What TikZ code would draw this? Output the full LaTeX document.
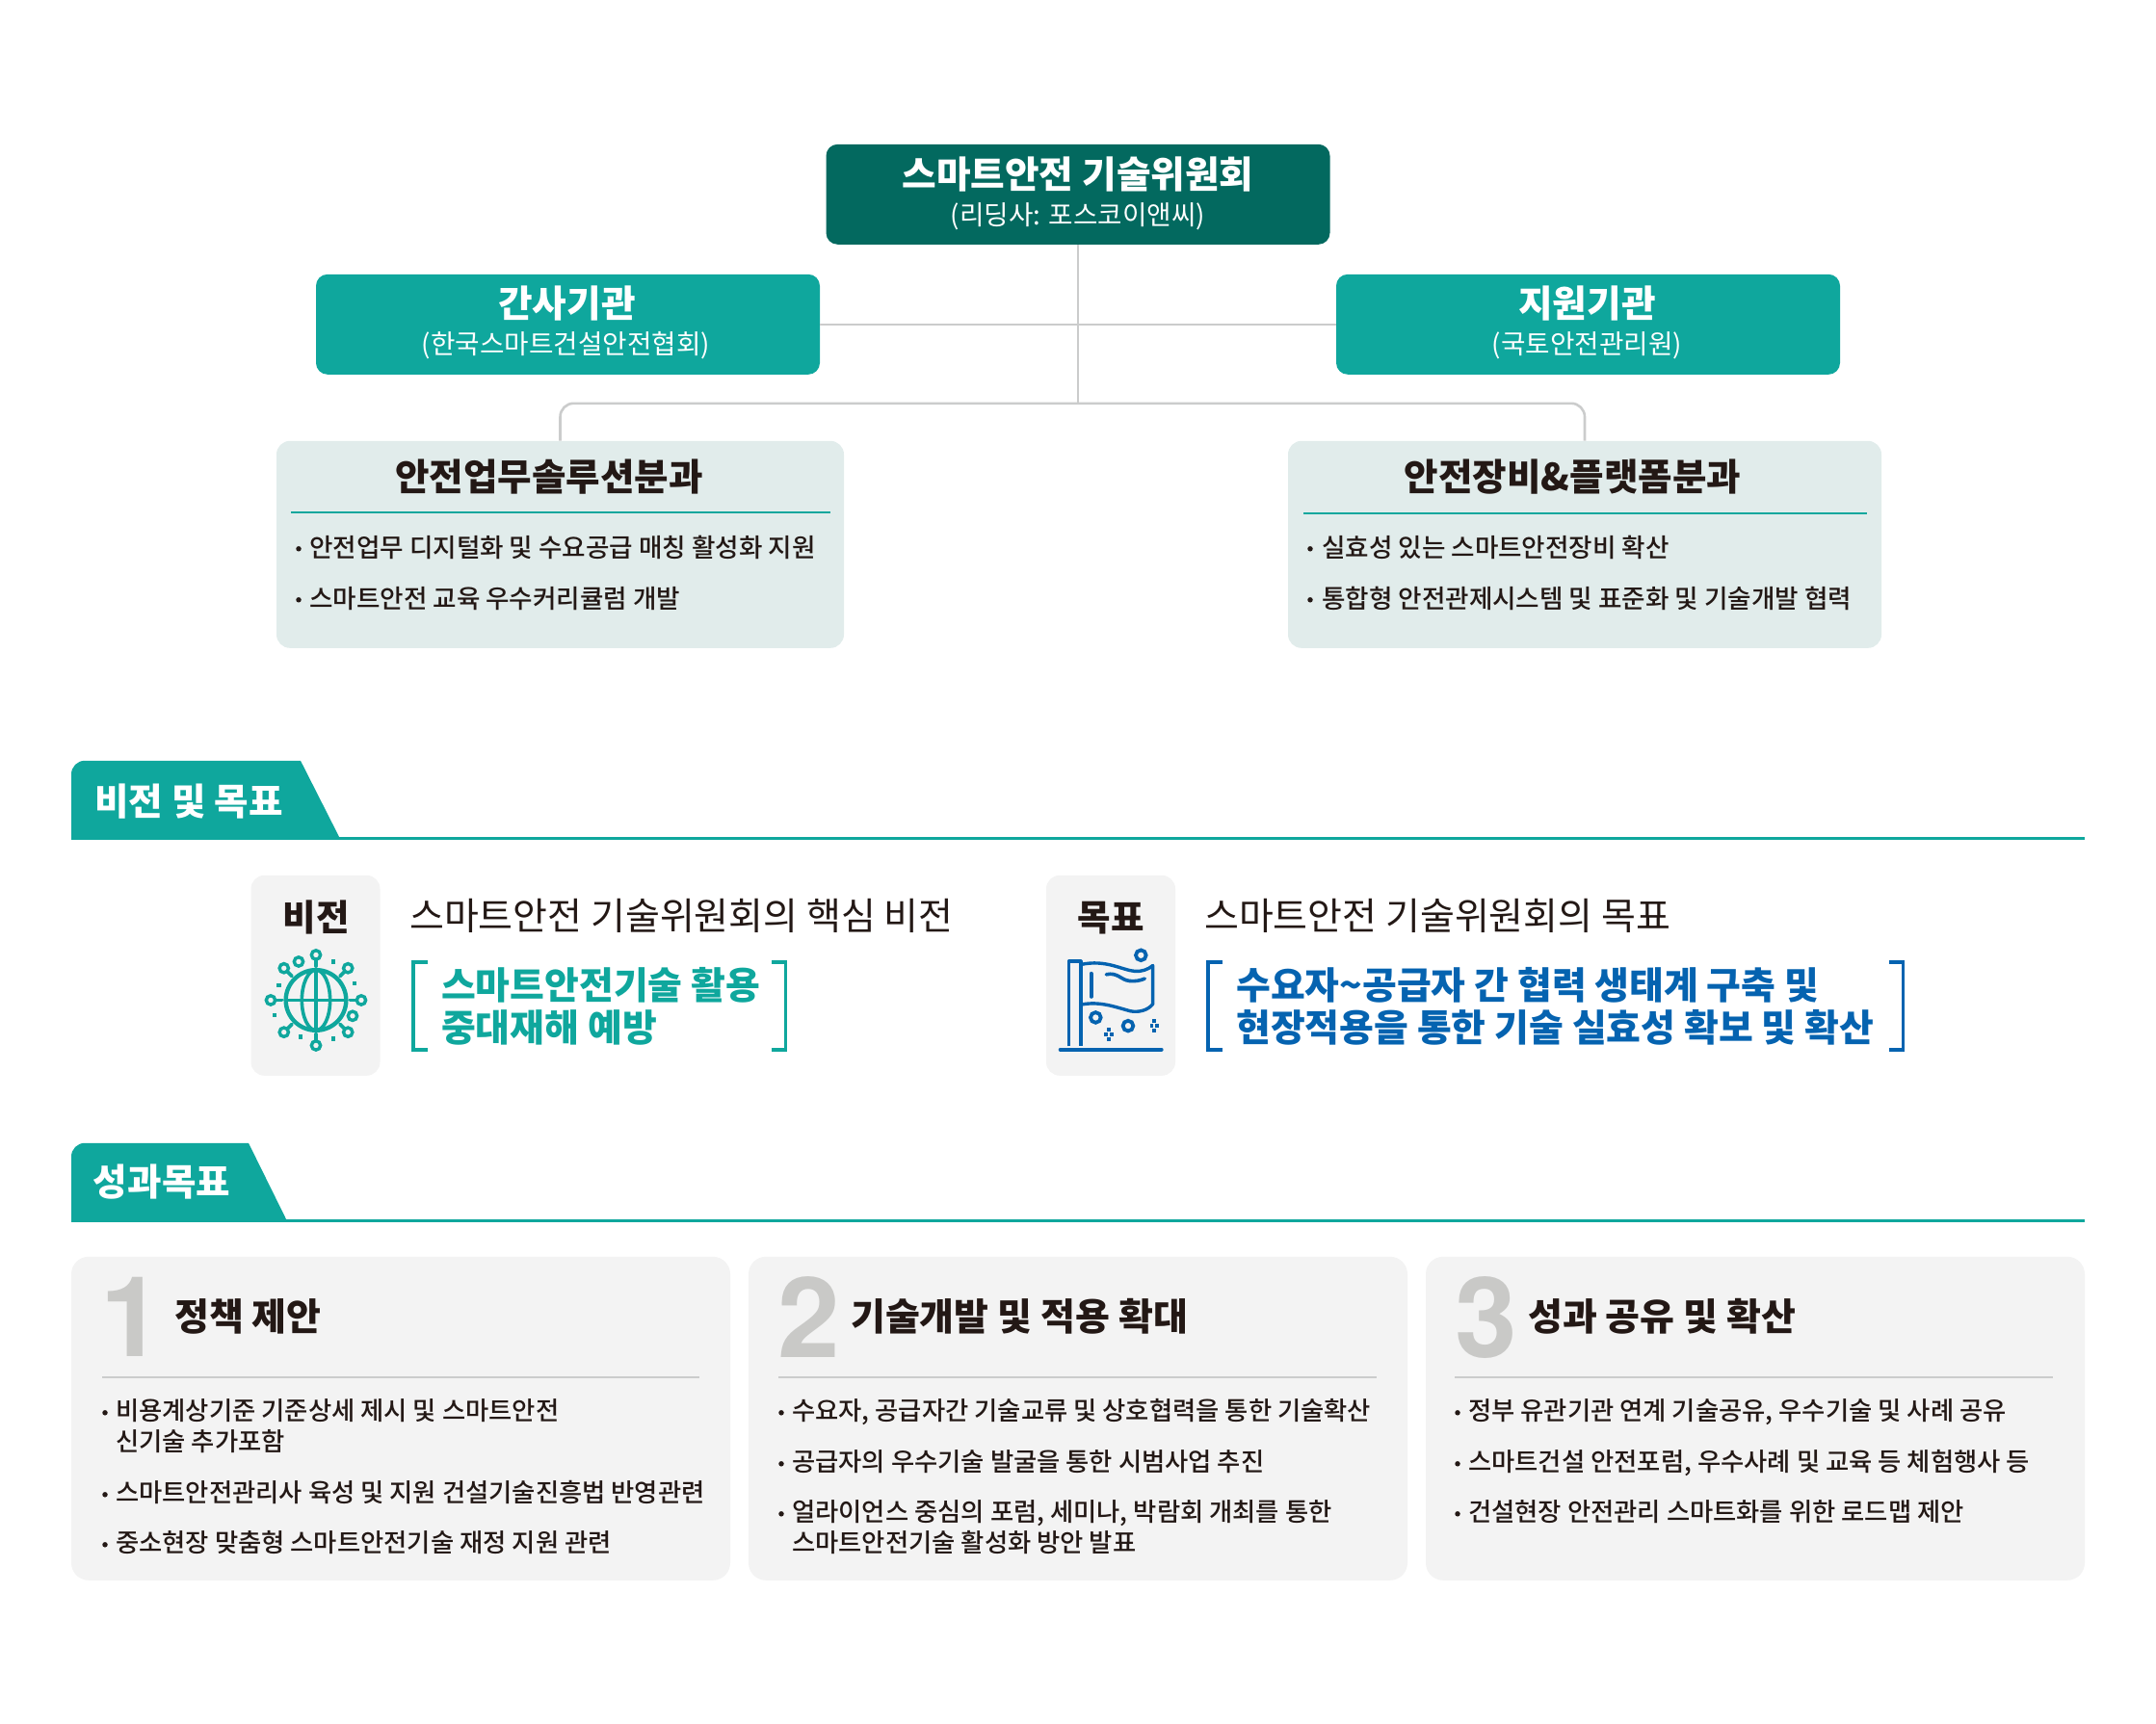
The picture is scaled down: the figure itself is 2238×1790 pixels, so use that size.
\documentclass[tikz,border=0pt]{standalone}
\usepackage{fontspec}
\usepackage{tikz}
\usetikzlibrary{calc}
\setmainfont{Noto Sans CJK KR}
\newfontfamily\krheavy{Noto Sans CJK KR Black}
\newfontfamily\krmedium{Noto Sans CJK KR Medium}
\newfontfamily\numfont{TeX Gyre Heros}
\definecolor{deepteal}{HTML}{03695F}
\definecolor{mainteal}{HTML}{0FA79D}
\definecolor{paleteal}{HTML}{E1ECEB}
\definecolor{palegray}{HTML}{F3F3F3}
\definecolor{linkgray}{HTML}{CBCCCC}
\definecolor{numgray}{HTML}{C9C9C7}
\definecolor{inkdark}{HTML}{231815}
\definecolor{goalblue}{HTML}{0563B0}
\tikzset{
  orgbox/.style={fill=#1, rounded corners=12pt, inner sep=0pt, minimum width=523pt, minimum height=104pt},
  workbox/.style={fill=paleteal, rounded corners=14pt, inner sep=0pt, minimum height=215pt},
  cellbox/.style={fill=palegray, rounded corners=14pt, inner sep=0pt, minimum width=134pt, minimum height=208pt},
  cardbox/.style={fill=palegray, rounded corners=18pt, inner sep=0pt, minimum width=684pt, minimum height=336pt},
  link/.style={draw=linkgray, line width=2.6pt},
  orgtitle/.style={inner sep=0pt, white, font=\krheavy\fontsize{38.7}{42}\selectfont},
  orgsub/.style={inner sep=0pt, white, font=\fontsize{27.7}{32}\selectfont},
  tabtext/.style={inner sep=0pt, white, font=\krheavy\fontsize{38.6}{42}\selectfont},
  worktitle/.style={inner sep=0pt, inkdark, font=\krheavy\fontsize{38.6}{42}\selectfont},
  celltitle/.style={inner sep=0pt, inkdark, font=\krheavy\fontsize{37.5}{42}\selectfont},
  itemtext/.style={inner sep=0pt, anchor=west, yshift=-1pt, inkdark, font=\krmedium\fontsize{26.35}{30}\selectfont, text height=22pt, text depth=4pt},
  boxitem/.style={itemtext, font=\krmedium\fontsize{26.6}{30}\selectfont},
  dotmark/.style={fill=inkdark, circle, inner sep=0pt, minimum size=5.5pt},
  leadtext/.style={inner sep=0pt, anchor=west, inkdark, font=\fontsize{39}{44}\selectfont, text height=33pt, text depth=5pt},
  goaltext/.style={inner sep=0pt, anchor=west, yshift=-1pt, #1, font=\krheavy\fontsize{38.9}{44}\selectfont, text height=33pt, text depth=5pt},
  numtext/.style={inner sep=0pt, numgray, font=\numfont\bfseries\fontsize{116}{116}\selectfont},
  cardtitle/.style={inner sep=0pt, anchor=west, yshift=-1pt, inkdark, font=\krheavy\fontsize{39}{44}\selectfont, text height=33pt, text depth=5pt},
}
\begin{document}
\begin{tikzpicture}[x=1pt, y=-1pt]
  \useasboundingbox (0,-0.8) rectangle (2238,1789.2);

  \node [orgbox=deepteal] (lead) at (1119,201) {};
  \node [orgbox=mainteal] (admin) at (589.5,336) {};
  \node [orgbox=mainteal] (support) at (1648.5,336) {};
  \node [workbox, minimum width=589pt] (solution) at (581.5,564.5) {};
  \node [workbox, minimum width=616pt] (platform) at (1645,564.5) {};
  \coordinate (joint) at (1119,418);

  \draw[link] (lead.south) -- (joint);
  \draw[link] (admin.east) -- (support.west);
  \draw[link, rounded corners=14pt] (solution.north) |- (joint) -| (platform.north);

  \node [orgtitle] (leadname) at (1119,180) {스마트안전 기술위원회};
  \node [orgsub] (leadsub) at (1119,224) {(리딩사: 포스코이앤씨)};
  \node [orgtitle] (adminname) at (588.5,314) {간사기관};
  \node [orgsub] (adminsub) at (587.5,358) {(한국스마트건설안전협회)};
  \node [orgtitle] (supportname) at (1647.5,314) {지원기관};
  \node [orgsub] (supportsub) at (1647.5,358) {(국토안전관리원)};

  \node [worktitle] (solutionname) at (570,494) {안전업무솔루션분과};
  \draw[mainteal, line width=2pt] (302,531) -- (862,531);
  \node [dotmark] (s1dot) at (310,569) {};
  \node [boxitem] (s1) at (321,568) {안전업무 디지털화 및 수요공급 매칭 활성화 지원};
  \node [dotmark] (s2dot) at (310,622) {};
  \node [boxitem] (s2) at (321,621) {스마트안전 교육 우수커리큘럼 개발};

  \node [worktitle] (platformname) at (1632.5,494) {안전장비\&플랫폼분과};
  \draw[mainteal, line width=2pt] (1353,532) -- (1938,532);
  \node [dotmark] (p1dot) at (1360,569) {};
  \node [boxitem] (p1) at (1372,568) {실효성 있는 스마트안전장비 확산};
  \node [dotmark] (p2dot) at (1360,622) {};
  \node [boxitem] (p2) at (1372,621) {통합형 안전관제시스템 및 표준화 및 기술개발 협력};

  \fill[mainteal] (74,870) [rounded corners=14pt] -- (74,789) [sharp corners] -- (312,789) -- (353,870) -- cycle;
  \draw[mainteal, line width=3pt] (74,869.5) -- (2164,869.5);
  \node [tabtext] (visiontab) at (196,831) {비전 및 목표};

  \node [cellbox] (visioncell) at (327.5,1012) {};
  \node [celltitle] (visionname) at (328,952) {비전};
  \begin{scope}[shift={(260,910)}, x=.3333pt, y=-.3333pt, mainteal]
    \draw[line width=4.4pt] (204,383) circle [radius=94];
    \draw[line width=3.6pt] (204,383) ellipse [x radius=44, y radius=94];
    \draw[line width=3.6pt] (204,289) -- (204,477) (110,383) -- (298,383);
    \foreach \ang in {0,45,...,315} {
      \draw[line width=3.8pt, line cap=round] ($(204,383)+(\ang:106)$) -- ($(204,383)+(\ang:126)$);
      \draw[line width=3.4pt] ($(204,383)+(\ang:141)$) circle [radius=14];
    }
    \draw[line width=3.4pt] (150,263) circle [radius=14] (318,432) circle [radius=14];
    \foreach \sqx/\sqy in {258/263,325/330,88/337,75/430,156/497,258/503}
      \fill (\sqx-6.5,\sqy-6.5) rectangle (\sqx+6.5,\sqy+6.5);
  \end{scope}

  \node [leadtext] (visionlead) at (425,951) {스마트안전 기술위원회의 핵심 비전};
  \draw[mainteal, line width=3.6pt] (444,998) -- (429,998) -- (429,1089) -- (444,1089);
  \draw[mainteal, line width=3.6pt] (801,998) -- (815.5,998) -- (815.5,1089) -- (801,1089);
  \node [goaltext=mainteal] (vision1) at (458,1022) {스마트안전기술 활용};
  \node [goaltext=mainteal] (vision2) at (458,1066) {중대재해 예방};

  \node [cellbox] (goalcell) at (1153,1012) {};
  \node [celltitle] (goalname) at (1153,952) {목표};
  \begin{scope}[shift={(1085,910)}, x=.3333pt, y=-.3333pt, goalblue, line width=3.4pt]
    \draw[line join=round] (73,527) -- (73,262) -- (111,262) -- (111,527);
    \draw[line join=round] (111,272) .. controls (190,255) and (240,290) .. (280,293) .. controls (300,294) and (320,288) .. (335,275) -- (335,395) .. controls (320,415) and (290,422) .. (265,417) .. controls (220,405) and (170,385) .. (111,397);
    \draw[line width=4pt, line cap=round] (47,537) -- (362,537);
    \draw[line width=4pt, line cap=round] (143,300) -- (143,372);
    \draw[line width=3.6pt, line cap=round] (190,303) .. controls (225,295) and (235,320) .. (262,323) .. controls (280,325) and (295,322) .. (310,316);
    \draw[line width=3.8pt] (298,243) circle [radius=16] (157,437) circle [radius=16] (258,463) circle [radius=16];
    \foreach \bitx/\bity in {198/490,340/463} {
      \fill (\bitx-14,\bity-6) rectangle (\bitx-3,\bity+6);
      \fill (\bitx+3,\bity-6) rectangle (\bitx+14,\bity+6);
      \fill (\bitx-6,\bity-20) rectangle (\bitx+6,\bity-9);
      \fill (\bitx-6,\bity+9) rectangle (\bitx+6,\bity+20);
    }
  \end{scope}

  \node [leadtext] (goallead) at (1250,951) {스마트안전 기술위원회의 목표};
  \draw[goalblue, line width=3.6pt] (1269,998) -- (1254,998) -- (1254,1089) -- (1269,1089);
  \draw[goalblue, line width=3.6pt] (1961,998) -- (1975.5,998) -- (1975.5,1089) -- (1961,1089);
  \node [goaltext=goalblue] (goal1) at (1283,1022) {수요자\textasciitilde 공급자 간 협력 생태계 구축 및};
  \node [goaltext=goalblue] (goal2) at (1283,1066) {현장적용을 통한 기술 실효성 확보 및 확산};

  \fill[mainteal] (74,1267) [rounded corners=14pt] -- (74,1186) [sharp corners] -- (258,1186) -- (298,1267) -- cycle;
  \draw[mainteal, line width=3pt] (74,1266.5) -- (2164,1266.5);
  \node [tabtext] (resulttab) at (168,1226) {성과목표};

  \node [cardbox] (card1) at (416,1472) {};
  \node [cardbox] (card2) at (1119,1472) {};
  \node [cardbox] (card3) at (1822,1472) {};

  \node [numtext] (num1) at (137,1367) {1};
  \node [cardtitle] (title1) at (181,1366) {정책 제안};
  \draw[linkgray, line width=2pt] (106,1429) -- (726,1429);
  \node [dotmark] (c1dot1) at (109,1466) {};
  \node [itemtext] (c1a) at (120,1464) {비용계상기준 기준상세 제시 및 스마트안전};
  \node [itemtext] (c1b) at (120,1496) {신기술 추가포함};
  \node [dotmark] (c1dot2) at (109,1551) {};
  \node [itemtext] (c1c) at (120,1549) {스마트안전관리사 육성 및 지원 건설기술진흥법 반영관련};
  \node [dotmark] (c1dot3) at (109,1603) {};
  \node [itemtext] (c1d) at (120,1601) {중소현장 맞춤형 스마트안전기술 재정 지원 관련};

  \node [numtext] (num2) at (840,1367) {2};
  \node [cardtitle] (title2) at (883,1366) {기술개발 및 적용 확대};
  \draw[linkgray, line width=2pt] (808,1429) -- (1429,1429);
  \node [dotmark] (c2dot1) at (811,1466) {};
  \node [itemtext] (c2a) at (822,1464) {수요자, 공급자간 기술교류 및 상호협력을 통한 기술확산};
  \node [dotmark] (c2dot2) at (811,1519) {};
  \node [itemtext] (c2b) at (822,1517) {공급자의 우수기술 발굴을 통한 시범사업 추진};
  \node [dotmark] (c2dot3) at (811,1571) {};
  \node [itemtext] (c2c) at (822,1569) {얼라이언스 중심의 포럼, 세미나, 박람회 개최를 통한};
  \node [itemtext] (c2d) at (822,1601) {스마트안전기술 활성화 방안 발표};

  \node [numtext] (num3) at (1543,1367) {3};
  \node [cardtitle] (title3) at (1586,1366) {성과 공유 및 확산};
  \draw[linkgray, line width=2pt] (1510,1429) -- (2131,1429);
  \node [dotmark] (c3dot1) at (1513,1466) {};
  \node [itemtext] (c3a) at (1524,1464) {정부 유관기관 연계 기술공유, 우수기술 및 사례 공유};
  \node [dotmark] (c3dot2) at (1513,1519) {};
  \node [itemtext] (c3b) at (1524,1517) {스마트건설 안전포럼, 우수사례 및 교육 등 체험행사 등};
  \node [dotmark] (c3dot3) at (1513,1571) {};
  \node [itemtext] (c3c) at (1524,1569) {건설현장 안전관리 스마트화를 위한 로드맵 제안};
\end{tikzpicture}
\end{document}
